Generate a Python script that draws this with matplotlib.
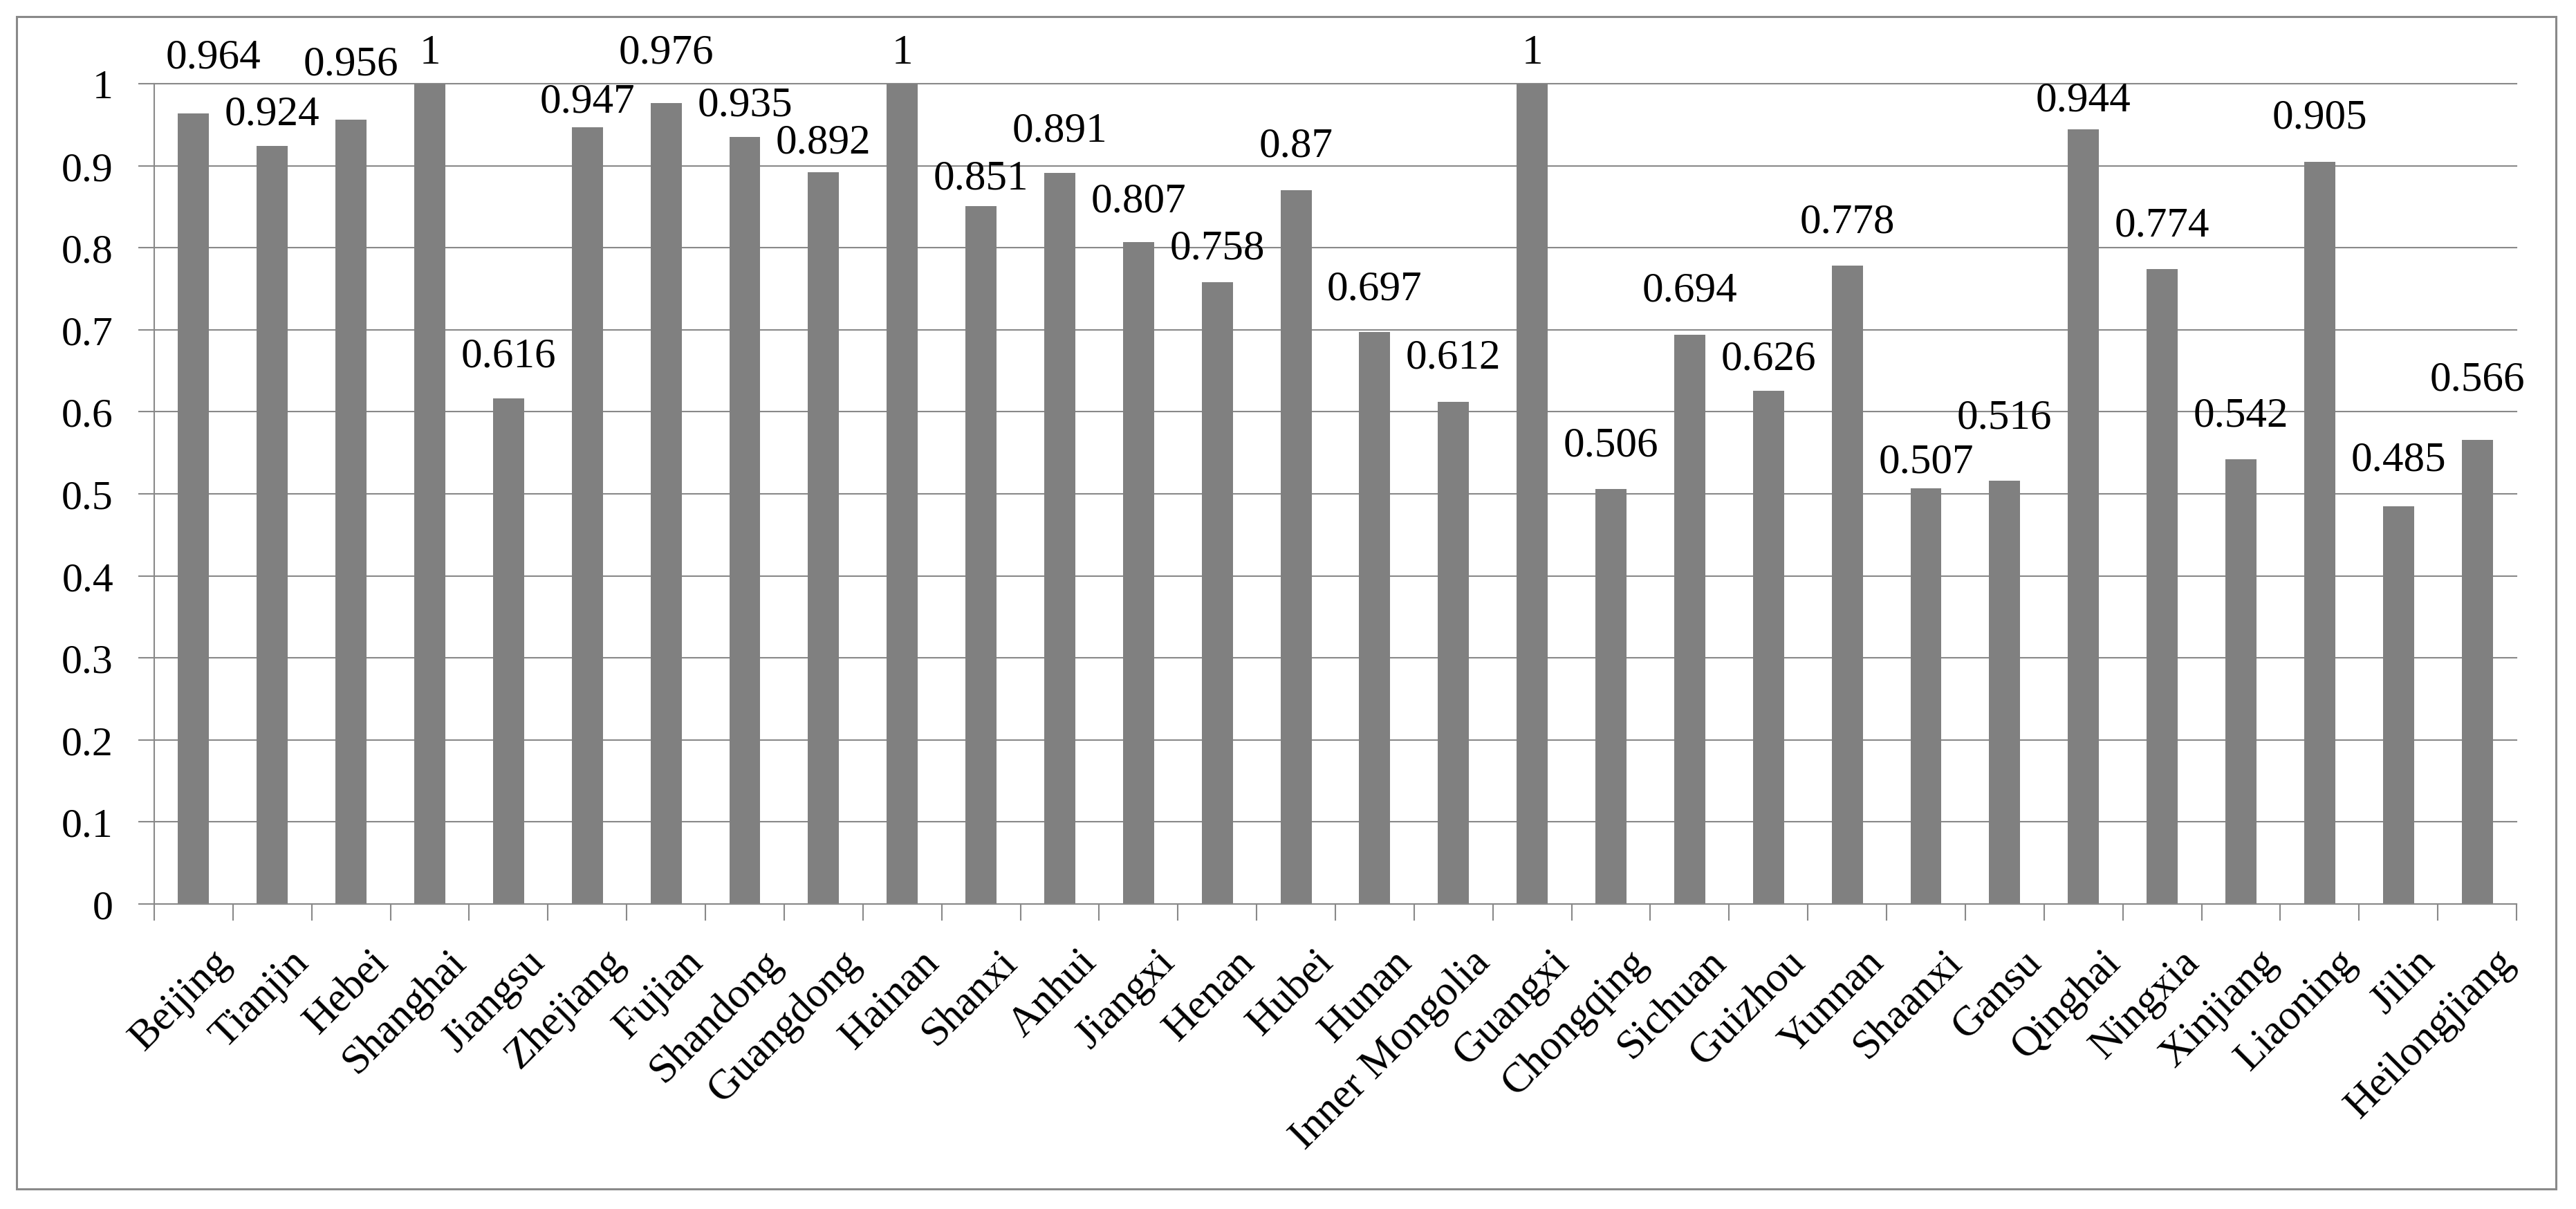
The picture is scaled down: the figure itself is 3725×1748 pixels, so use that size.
import matplotlib
matplotlib.use('Agg')
import matplotlib.pyplot as plt
import matplotlib.transforms as mtransforms
from matplotlib.patches import Rectangle
import numpy as np


# ---------------- data ----------------
provinces = ['Beijing', 'Tianjin', 'Hebei', 'Shanghai', 'Jiangsu', 'Zhejiang',
             'Fujian', 'Shandong', 'Guangdong', 'Hainan', 'Shanxi', 'Anhui',
             'Jiangxi', 'Henan', 'Hubei', 'Hunan', 'Inner Mongolia', 'Guangxi',
             'Chongqing', 'Sichuan', 'Guizhou', 'Yunnan', 'Shaanxi', 'Gansu',
             'Qinghai', 'Ningxia', 'Xinjiang', 'Liaoning', 'Jilin', 'Heilongjiang']

scores = [0.964, 0.924, 0.956, 1, 0.616, 0.947, 0.976, 0.935, 0.892, 1,
          0.851, 0.891, 0.807, 0.758, 0.87, 0.697, 0.612, 1, 0.506, 0.694,
          0.626, 0.778, 0.507, 0.516, 0.944, 0.774, 0.542, 0.905, 0.485, 0.566]

y_ticks = [0, 0.1, 0.2, 0.3, 0.4, 0.5, 0.6, 0.7, 0.8, 0.9, 1]
y_tick_labels = ['0', '0.1', '0.2', '0.3', '0.4', '0.5', '0.6', '0.7', '0.8', '0.9', '1']

# label lift above each bar top (pixels), the labels were placed by hand
label_lift = [81, 46, 80, 45, 62, 37, 74, 46, 43, 45, 40, 62, 59, 49, 64,
              63, 64, 45, 63, 64, 46, 64, 38, 91, 43, 63, 63, 64, 67, 87]


# ---------------- figure ----------------
W, H, DPI = 3725, 1749, 100
GRAY = '#898989'
BAR = '#808080'
FONT = 'Liberation Serif'

fig = plt.figure(figsize=(W / DPI, H / DPI), dpi=DPI)
fig.patch.set_facecolor('white')

# outer frame of the chart
fig.patches.append(Rectangle((24 / W, 1 - 1720 / H), (3696 - 24) / W, (1720 - 25) / H,
                             transform=fig.transFigure, fill=False,
                             edgecolor=GRAY, linewidth=2.2))

ax_left, ax_right, ax_top, ax_bottom = 223, 3639, 122, 1308
ax = fig.add_axes([ax_left / W, 1 - ax_bottom / H,
                   (ax_right - ax_left) / W, (ax_bottom - ax_top) / H])

x = np.arange(len(provinces))
ax.bar(x, scores, width=0.395, color=BAR, zorder=3)

ax.set_xlim(-0.5, len(provinces) - 0.5)
ax.set_ylim(0, 1)

# grid + spines
ax.set_yticks(y_ticks)
ax.set_yticklabels(y_tick_labels, fontsize=43, family=FONT)
ax.yaxis.grid(True, color=GRAY, linewidth=1.5, zorder=0)
for gl in ax.yaxis.get_gridlines():
    gl.set_clip_on(False)
for s in ['top', 'right']:
    ax.spines[s].set_visible(False)
for s in ['left', 'bottom']:
    ax.spines[s].set_color(GRAY)
    ax.spines[s].set_linewidth(1.5)
    ax.spines[s].set_zorder(4)
ax.tick_params(axis='y', direction='out', length=16.5, width=1.5, color=GRAY, pad=26)

# category labels, tick marks sit between categories
ax.set_xticks(x)
ax.set_xticklabels(provinces, fontsize=44, family=FONT, rotation=45,
                   ha='right', va='top', rotation_mode='anchor')
ax.set_xticks(np.arange(-0.5, len(provinces)), minor=True)
ax.tick_params(axis='x', which='major', length=0, pad=40)
ax.tick_params(axis='x', which='minor', direction='out', length=17, width=1.5, color=GRAY)
shift = mtransforms.ScaledTranslation(25 / DPI, 0, fig.dpi_scale_trans)
for lbl in ax.get_xticklabels():
    lbl.set_transform(lbl.get_transform() + shift)

# value labels
for i, v in enumerate(scores):
    dx = 29 if i == 0 else 0
    ax.annotate('%g' % v, (x[i], v), xytext=(dx * 0.72, label_lift[i] * 0.72),
                textcoords='offset points', ha='center', va='center',
                fontsize=44, family=FONT, annotation_clip=False, zorder=5)

fig.savefig('out.png', dpi=DPI, facecolor='white')
